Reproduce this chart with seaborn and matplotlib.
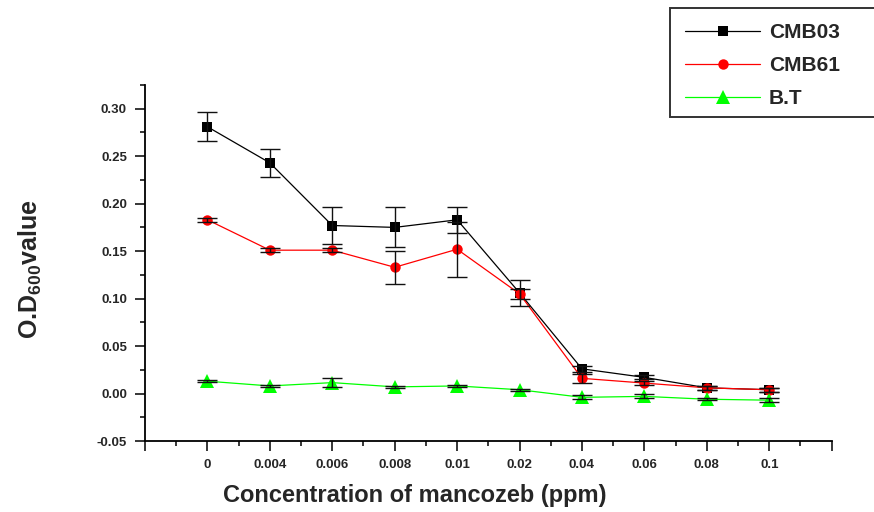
import numpy as np
import pandas as pd
import matplotlib
matplotlib.use("Agg")
import matplotlib.pyplot as plt
from matplotlib.patches import Rectangle
from matplotlib.ticker import MultipleLocator, FixedLocator, FormatStrFormatter
import seaborn as sns

# Mancozeb concentrations (ppm), shown as evenly spaced categories
conc_labels = ["0", "0.004", "0.006", "0.008", "0.01", "0.02", "0.04", "0.06", "0.08", "0.1"]

# Mean O.D600 readings and their error margins for each strain
cmb03 = [0.281, 0.243, 0.177, 0.175, 0.183, 0.106, 0.026, 0.017, 0.006, 0.004]
cmb03_err = [0.0155, 0.015, 0.020, 0.021, 0.0135, 0.014, 0.003, 0.002, 0.002, 0.002]
cmb61 = [0.183, 0.151, 0.151, 0.133, 0.152, 0.105, 0.016, 0.011, 0.006, 0.004]
cmb61_err = [0.002, 0.002, 0.002, 0.0175, 0.029, 0.0056, 0.0045, 0.002, 0.002, 0.002]
bt = [0.013, 0.008, 0.0115, 0.007, 0.008, 0.004, -0.004, -0.003, -0.006, -0.007]
bt_err = [0.001, 0.001, 0.0045, 0.001, 0.001, 0.001, 0.002, 0.002, 0.001, 0.002]

series_names = ["CMB03", "CMB61", "B.T"]
series_vals = [cmb03, cmb61, bt]
series_errs = [cmb03_err, cmb61_err, bt_err]
colors = {"CMB03": "#000000", "CMB61": "#ff0000", "B.T": "#00ff00"}
markers = {"CMB03": "s", "CMB61": "o", "B.T": "^"}
msizes = {"CMB03": 7.5, "CMB61": 7.5, "B.T": 9.5}

positions = np.arange(len(conc_labels))
df = pd.concat(
    [pd.DataFrame({"pos": positions, "od": v, "err": e, "strain": n})
     for n, v, e in zip(series_names, series_vals, series_errs)],
    ignore_index=True,
)

sns.set_style("ticks")
plt.rcParams["font.family"] = ["Liberation Sans", "DejaVu Sans"]
plt.rcParams["font.weight"] = "bold"
plt.rcParams["mathtext.fontset"] = "custom"
plt.rcParams["mathtext.rm"] = "Liberation Sans:bold"
plt.rcParams["mathtext.bf"] = "Liberation Sans:bold"

fig = plt.figure(figsize=(8.74, 5.12), dpi=100)
ax = fig.add_axes([145 / 874, 1 - 441 / 512, (831.7 - 145) / 874, (441 - 85) / 512])

# connecting lines through seaborn, one call per strain to size markers individually
for name in series_names:
    sns.lineplot(
        data=df[df["strain"] == name], x="pos", y="od",
        color=colors[name], marker=markers[name], markersize=msizes[name],
        markeredgewidth=0, linewidth=0.9, ax=ax, legend=False, zorder=2,
    )

for name in series_names:
    sub = df[df["strain"] == name]
    ax.errorbar(sub["pos"], sub["od"], yerr=sub["err"], fmt="none",
                ecolor="#111111", elinewidth=1.0, capsize=7, capthick=1.0, zorder=3)

ax.set_xlim(-1, 10)
ax.set_ylim(-0.05, 0.325)
ax.xaxis.set_major_locator(FixedLocator(np.arange(-1, 11)))
ax.set_xticklabels([""] + conc_labels + [""])
ax.xaxis.set_minor_locator(MultipleLocator(0.5))
ax.yaxis.set_major_locator(FixedLocator(np.arange(-0.05, 0.301, 0.05)))
ax.yaxis.set_minor_locator(MultipleLocator(0.025))
ax.yaxis.set_major_formatter(FormatStrFormatter("%.2f"))

ax.tick_params(axis="both", which="major", direction="out", length=7, width=1.1,
               labelsize=9.5, pad=6, color="black")
ax.tick_params(axis="both", which="minor", direction="out", length=3.5, width=1.1,
               color="black")
for lab in ax.get_xticklabels() + ax.get_yticklabels():
    lab.set_fontweight("bold")

sns.despine(ax=ax)
for side in ("left", "bottom"):
    ax.spines[side].set_linewidth(1.3)
    ax.spines[side].set_color("black")

ax.set_xlabel("Concentration of mancozeb (ppm)", fontsize=17, fontweight="bold")
ax.xaxis.set_label_coords(0.393, -0.121)
ax.xaxis.label.set_va("top")
ax.set_ylabel("O.D$_{600}$value", fontsize=18, fontweight="bold")
ax.yaxis.set_label_coords(-0.147, 0.483)

# legend box running off the right edge of the figure
fig.patches.append(Rectangle((670 / 874, 1 - 117 / 512), 240 / 874, 109 / 512,
                             transform=fig.transFigure, facecolor="white",
                             edgecolor="#333333", linewidth=1.4, zorder=5))
handles = [
    plt.Line2D([], [], color=colors[n], marker=markers[n], markersize=msizes[n],
               markeredgewidth=0, linewidth=0.9)
    for n in series_names
]
leg = fig.legend(
    handles, series_names, loc="upper left",
    bbox_to_anchor=(685 / 874, 1 - 23 / 512),
    prop={"family": "Liberation Sans", "weight": "bold", "size": 15},
    handlelength=3.6, handletextpad=0.43, labelspacing=0.68,
    borderpad=0, borderaxespad=0, frameon=False,
)
leg.set_zorder(6)

fig.savefig("out.png", dpi=100)
